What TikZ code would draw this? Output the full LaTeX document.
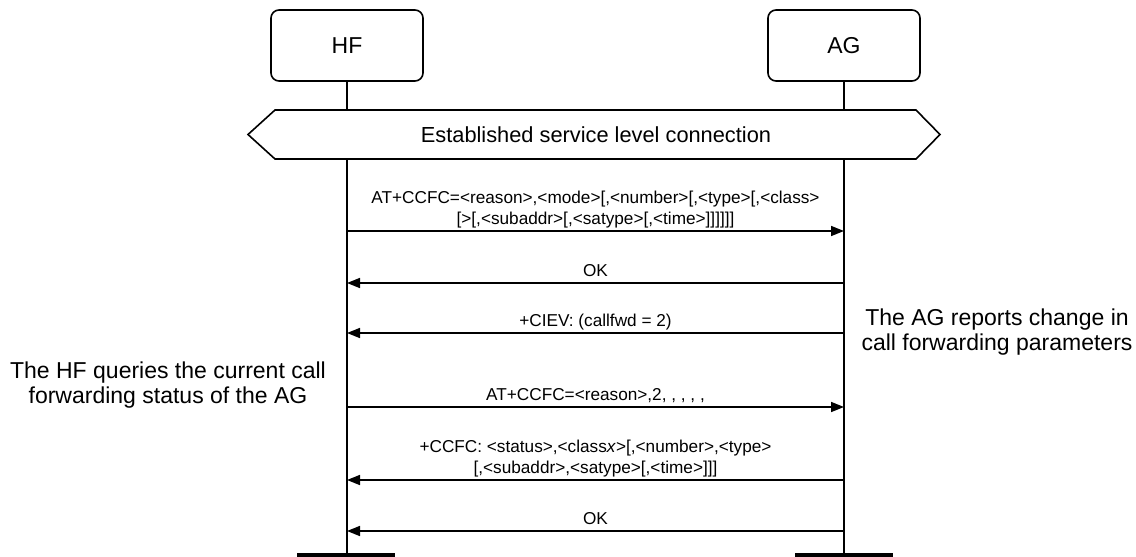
\documentclass[tikz,border=0pt]{standalone}
\usepackage{fontspec}
\setmainfont{Liberation Sans}
\usetikzlibrary{arrows.meta}
\begin{document}
\begin{tikzpicture}[x=1pt,y=-1pt,
    entity/.style={draw, line width=1.6pt, rounded corners=8pt, minimum width=152pt,
                   minimum height=71pt, inner sep=0pt, font=\fontsize{23}{27}\selectfont},
    msg/.style={line width=1.6pt, -{Triangle[length=13pt,width=10pt]}},
    lbl/.style={midway, above=5.5pt, inner sep=0pt, text depth=0pt, align=center,
                font=\fontsize{17.2}{21.5}\selectfont},
    note/.style={inner sep=0pt, align=center, font=\fontsize{23}{24.5}\selectfont}]
  \useasboundingbox (0,0) rectangle (1136,557);

  % entities and lifelines
  \node[entity] (hf) at (347,45.5) {HF};
  \node[entity] (ag) at (844,45.5) {AG};
  \coordinate (hfend) at (347,557);
  \coordinate (agend) at (844,557);
  \draw[line width=1.8pt] (hf.south) -- (hfend);
  \draw[line width=1.8pt] (ag.south) -- (agend);
  \draw[line width=4pt] (297,555) -- (395,555);
  \draw[line width=4pt] (795,555) -- (893,555);

  % service level connection
  \draw[line width=1.6pt, fill=white] (248,134.5) -- (275,110) -- (916,110) -- (940,134.5)
        -- (916,159) -- (275,159) -- cycle;
  \node[inner sep=0pt, font=\fontsize{21.8}{25}\selectfont] (slc) at (596,134.5)
        {Established service level connection};

  % messages
  \draw[msg] (hf |- 0,231) -- node[lbl] (m1)
        {AT+CCFC=<reason>,<mode>{[},<number>{[},<type>{[},<class>\\
         {[}>{[},<subaddr>{[},<satype>{[},<time>{]]]]]]}} (ag |- 0,231);
  \draw[msg] (ag |- 0,283) -- node[lbl] (m2) {OK} (hf |- 0,283);
  \draw[msg] (ag |- 0,333) -- node[lbl] (m3) {+CIEV: (callfwd = 2)} (hf |- 0,333);
  \draw[msg] (hf |- 0,407) -- node[lbl] (m4) {AT+CCFC=<reason>,2, , , , ,} (ag |- 0,407);
  \draw[msg] (ag |- 0,480) -- node[lbl] (m5)
        {+CCFC: <status>,<class\textit{x}>{[},<number>,<type>\\
         {[},<subaddr>,<satype>{[},<time>{]]]}} (hf |- 0,480);
  \draw[msg] (ag |- 0,531) -- node[lbl] (m6) {OK} (hf |- 0,531);

  % notes
  \node[note] (agnote) at (997,332) {The AG reports change in\\call forwarding parameters};
  \node[note] (hfnote) at (168,385) {The HF queries the current call\\forwarding status of the AG};
\end{tikzpicture}
\end{document}
